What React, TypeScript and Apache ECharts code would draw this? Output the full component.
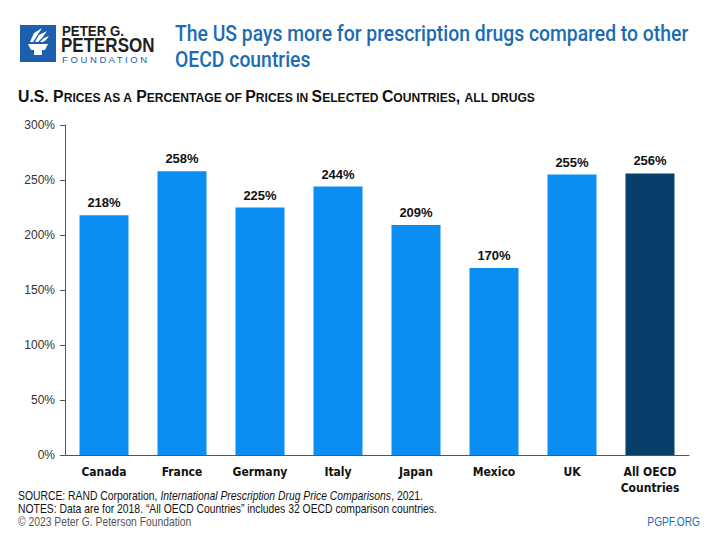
import React, { useEffect, useRef } from "react";
import * as echarts from "echarts";

const categories = ["Canada", "France", "Germany", "Italy", "Japan", "Mexico", "UK", "All OECD\nCountries"];
const values = [218, 258, 225, 244, 209, 170, 255, 256];
const highlightIndex = 7;
const yTicks = [0, 50, 100, 150, 200, 250, 300];

const titleText = "The US pays more for prescription drugs compared to other\nOECD countries";
const subtitleText = "U.S. Prices as a Percentage of Prices in Selected Countries, all drugs";
const sourceLines = [
  "{n|SOURCE: RAND Corporation, }{i|International Prescription Drug Price Comparisons}{n|, 2021.}",
  "{n|NOTES: Data are for 2018. \u201CAll OECD Countries\u201D includes 32 OECD comparison countries.}",
];
const copyrightText = "\u00A9 2023 Peter G. Peterson Foundation";
const siteText = "PGPF.ORG";

const SANS = "'Liberation Sans', Arial, sans-serif";
const COND = "'DejaVu Sans Condensed', 'Liberation Sans', sans-serif";
const BAR = "#0a8ef3";
const DARK = "#073f6b";
const TITLE_BLUE = "#1c6cb3";

function smallCaps(s: string): string {
  let out = "";
  let cur = "";
  let mode = "";
  const flush = () => {
    if (cur) out += `{${mode}|${cur}}`;
    cur = "";
  };
  for (const ch of s) {
    const isLower = ch !== ch.toUpperCase();
    const m = isLower ? "s" : "b";
    if (ch === " ") {
      cur += ch;
      continue;
    }
    if (m !== mode) {
      flush();
      mode = m;
    }
    cur += ch.toUpperCase();
  }
  flush();
  return out;
}

export default function App() {
  const ref = useRef<HTMLDivElement>(null);
  useEffect(() => {
    if (!ref.current) return;
    const chart = echarts.init(ref.current, undefined, { renderer: "svg" });
    chart.setOption({
      animation: false,
      backgroundColor: "#ffffff",
      grid: { left: 65, right: 31, top: 125, bottom: 85 },
      xAxis: {
        type: "category",
        data: categories,
        axisLine: { lineStyle: { color: "#555", width: 1 } },
        axisTick: { show: false },
        axisLabel: {
          color: "#111",
          fontFamily: COND,
          fontWeight: "bold",
          fontSize: 12,
          lineHeight: 16,
          margin: 9,
          interval: 0,
        },
      },
      yAxis: {
        type: "value",
        min: yTicks[0],
        max: yTicks[yTicks.length - 1],
        interval: 50,
        axisLine: { show: true, lineStyle: { color: "#555", width: 1 } },
        axisTick: { show: true, length: 5, lineStyle: { color: "#555" } },
        splitLine: { show: false },
        axisLabel: {
          color: "#333",
          fontFamily: SANS,
          fontSize: 12,
          margin: 10,
          formatter: (v: number) => `${v}%`,
        },
      },
      series: [
        {
          type: "bar",
          barWidth: 49,
          data: values.map((v, i) => ({
            value: v,
            itemStyle: { color: i === highlightIndex ? DARK : BAR },
          })),
          label: {
            show: true,
            position: "top",
            distance: 6,
            color: "#111",
            fontFamily: SANS,
            fontWeight: "bold",
            fontSize: 13,
            formatter: (p: any) => `${p.value}%`,
          },
        },
      ],
      graphic: [
        { type: "rect", shape: { x: 20, y: 25, width: 36, height: 37 }, style: { fill: "#1c5fae" } },
        { type: "polygon", shape: { points: [[28, 44], [48, 44], [45, 50], [31, 50]] }, style: { fill: "#fff" } },
        { type: "rect", shape: { x: 34, y: 50, width: 8, height: 5 }, style: { fill: "#fff" } },
        { type: "polygon", shape: { points: [[30, 42], [34, 33], [42, 28], [37, 36], [33, 42]] }, style: { fill: "#fff" } },
        { type: "polygon", shape: { points: [[35, 42], [39, 35], [47, 31], [42, 38], [38, 42]] }, style: { fill: "#fff" } },
        { type: "polygon", shape: { points: [[40, 42], [44, 38], [49, 36], [46, 40], [43, 42]] }, style: { fill: "#fff" } },
        {
          type: "text",
          x: 62,
          y: 24,
          scaleX: 0.95,
          style: { text: "PETER G.", font: `bold 14px ${SANS}`, fill: "#231f20" },
        },
        {
          type: "text",
          x: 61,
          y: 35,
          scaleX: 0.85,
          style: { text: "PETERSON", font: `bold 20px ${SANS}`, fill: "#231f20" },
        },
        {
          type: "text",
          x: 62,
          y: 54,
          style: { text: "F O U N D A T I O N", font: `9.5px ${SANS}`, fill: "#1c5fae" },
        },
        {
          type: "text",
          x: 175,
          y: 21,
          scaleX: 0.86,
          style: {
            text: titleText,
            font: `500 22.5px Roboto, ${SANS}`,
            fill: TITLE_BLUE,
            lineHeight: 26,
          },
        },
        {
          type: "text",
          x: 18,
          y: 87,
          scaleX: 0.93,
          style: {
            text: smallCaps(subtitleText),
            fill: "#111",
            rich: {
              b: { font: `bold 17px ${SANS}`, fill: "#111", verticalAlign: "bottom" },
              s: { font: `bold 13px ${SANS}`, fill: "#111", verticalAlign: "bottom" },
            },
          },
        },
        {
          type: "text",
          x: 18,
          y: 489,
          scaleX: 0.865,
          style: {
            text: sourceLines.join("\n"),
            lineHeight: 13,
            rich: {
              n: { font: `12px ${SANS}`, fill: "#111", lineHeight: 13 },
              i: { font: `italic 12px ${SANS}`, fill: "#111", lineHeight: 13 },
            },
          },
        },
        {
          type: "text",
          x: 18,
          y: 516,
          scaleX: 0.86,
          style: { text: copyrightText, font: `12px ${SANS}`, fill: "#555" },
        },
        {
          type: "text",
          x: 700,
          y: 516,
          scaleX: 0.85,
          style: { text: siteText, font: `12px ${SANS}`, fill: TITLE_BLUE, align: "right" },
        },
      ],
    });
    return () => chart.dispose();
  }, []);
  return <div ref={ref} style={{ width: 720, height: 540, position: "absolute", left: 0, top: 0 }} />;
}
